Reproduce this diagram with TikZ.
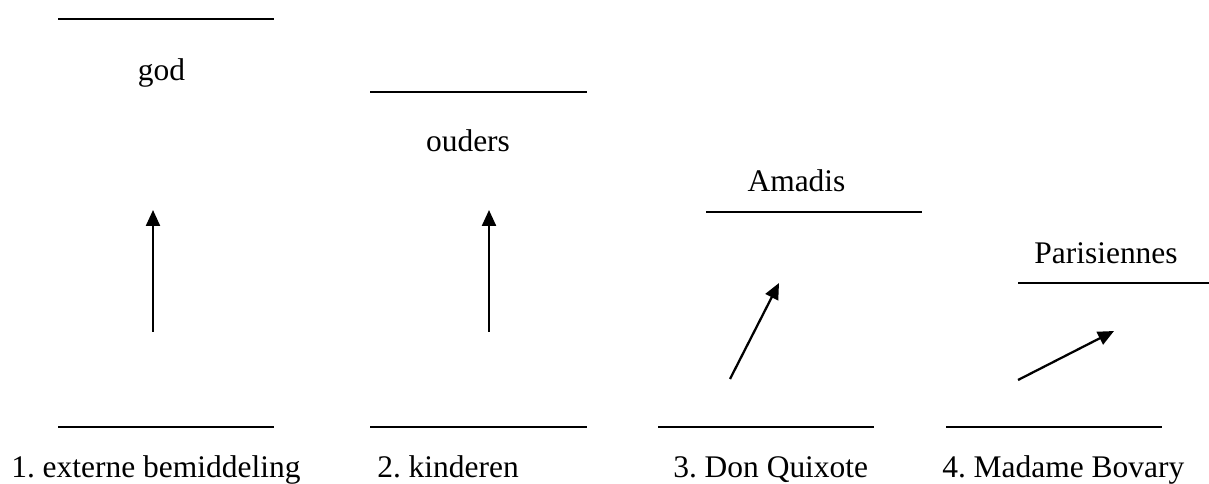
\documentclass[tikz,border=0pt]{standalone}
\usepackage{fontspec}
\setmainfont{Liberation Serif}
\usetikzlibrary{arrows.meta}
\frenchspacing
\begin{document}
\begin{tikzpicture}[x=0.75pt,y=-0.75pt,
  bar/.style={line width=1.5pt},
  arr/.style={line width=1.7pt,-{Triangle[length=12pt,width=10.5pt]}},
  lbl/.style={inner sep=0pt,anchor=base,font=\fontsize{23.6}{28}\selectfont},
  caption/.style={inner sep=0pt,anchor=base west,font=\fontsize{23.6}{28}\selectfont}]
\useasboundingbox (0,0) rectangle (1209,484);
% top bars
\coordinate (t1a) at (58,19);   \coordinate (t1b) at (274,19);
\coordinate (t2a) at (370,92);  \coordinate (t2b) at (587,92);
\coordinate (t3a) at (706,212); \coordinate (t3b) at (922,212);
\coordinate (t4a) at (1018,283);\coordinate (t4b) at (1209,283);
\draw[bar] (t1a) -- (t1b);
\draw[bar] (t2a) -- (t2b);
\draw[bar] (t3a) -- (t3b);
\draw[bar] (t4a) -- (t4b);
% bottom bars
\coordinate (b1a) at (58,427);  \coordinate (b1b) at (274,427);
\coordinate (b2a) at (370,427); \coordinate (b2b) at (587,427);
\coordinate (b3a) at (658,427); \coordinate (b3b) at (874,427);
\coordinate (b4a) at (946,427); \coordinate (b4b) at (1162,427);
\draw[bar] (b1a) -- (b1b);
\draw[bar] (b2a) -- (b2b);
\draw[bar] (b3a) -- (b3b);
\draw[bar] (b4a) -- (b4b);
% upper labels
\node[lbl] (god) at (161.5,81) {god};
\node[lbl] (ouders) at (468,152) {ouders};
\node[lbl] (amadis) at (796.5,192) {Amadis};
\node[lbl] (paris) at (1106,264) {Parisiennes};
% arrows
\coordinate (a1s) at (153,332); \coordinate (a1e) at (153,210);
\coordinate (a2s) at (489,332); \coordinate (a2e) at (489,210);
\coordinate (a3s) at (730,379); \coordinate (a3e) at (779,283);
\coordinate (a4s) at (1018,380);\coordinate (a4e) at (1114,331);
\draw[arr] (a1s) -- (a1e);
\draw[arr] (a2s) -- (a2e);
\draw[arr] (a3s) -- (a3e);
\draw[arr] (a4s) -- (a4e);
% captions
\node[caption] (c1) at (11,477) {1. externe bemiddeling};
\node[caption] (c2) at (377,477) {2. kinderen};
\node[caption] (c3) at (673,477) {3. Don Quixote};
\node[caption] (c4) at (942,477) {4. Madame Bovary};
\end{tikzpicture}
\end{document}
